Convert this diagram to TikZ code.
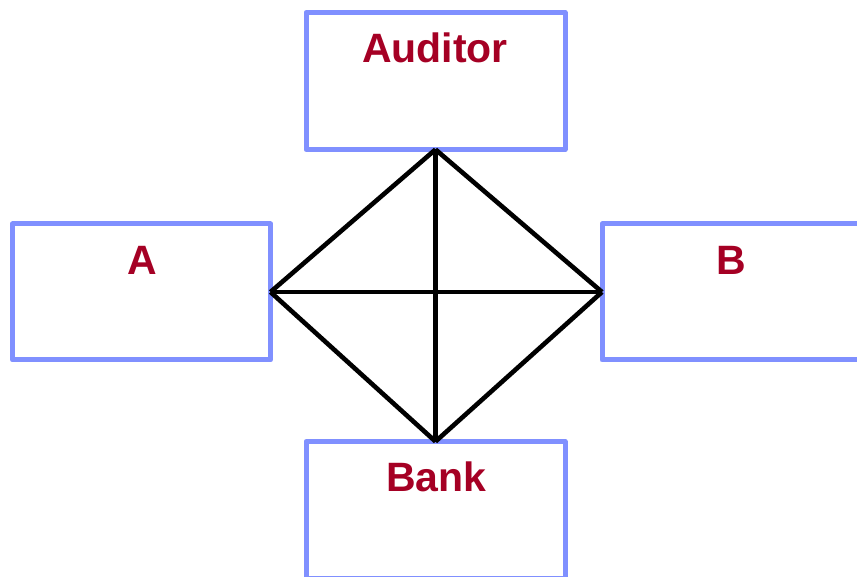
\documentclass[tikz,border=0pt]{standalone}
\usepackage{fontspec}
\setmainfont{Liberation Sans}
\definecolor{boxblue}{RGB}{128,144,255}
\definecolor{labelred}{RGB}{165,0,36}
\begin{document}
\begin{tikzpicture}[x=1pt,y=-1pt,
  party/.style={draw=boxblue,line width=5pt,line join=round,rectangle,
    minimum width=259pt,minimum height=137pt,inner sep=0pt,outer sep=0pt},
  partyname/.style={anchor=base,text=labelred,inner sep=0pt,
    font=\fontsize{41}{48}\selectfont\bfseries},
  link/.style={draw=black,line width=4.6pt}]
\useasboundingbox (0,0) rectangle (857,577);
% party boxes
\node[party] (aud) at (435.5,81) {};
\node[party,minimum width=258pt,minimum height=136pt] (a) at (141.5,292) {};
\node[party,minimum height=136pt] (b) at (731.5,292) {};
\node[party] (bank) at (435.5,510) {};
% names
\node[partyname] (audt) at (435,63) {Auditor};
\node[partyname] (at) at (142.5,275) {A};
\node[partyname] (bt) at (731.5,275) {B};
\node[partyname] (bankt) at (436.5,491.5) {Bank};
% links between every pair of neighbours
\draw[link] (aud.south) -- (a.east);
\draw[link] (aud.south) -- (b.west);
\draw[link] (bank.north) -- (a.east);
\draw[link] (bank.north) -- (b.west);
\draw[link] (a.east) -- (b.west);
\draw[link] (aud.south) -- (bank.north);
\end{tikzpicture}
\end{document}
